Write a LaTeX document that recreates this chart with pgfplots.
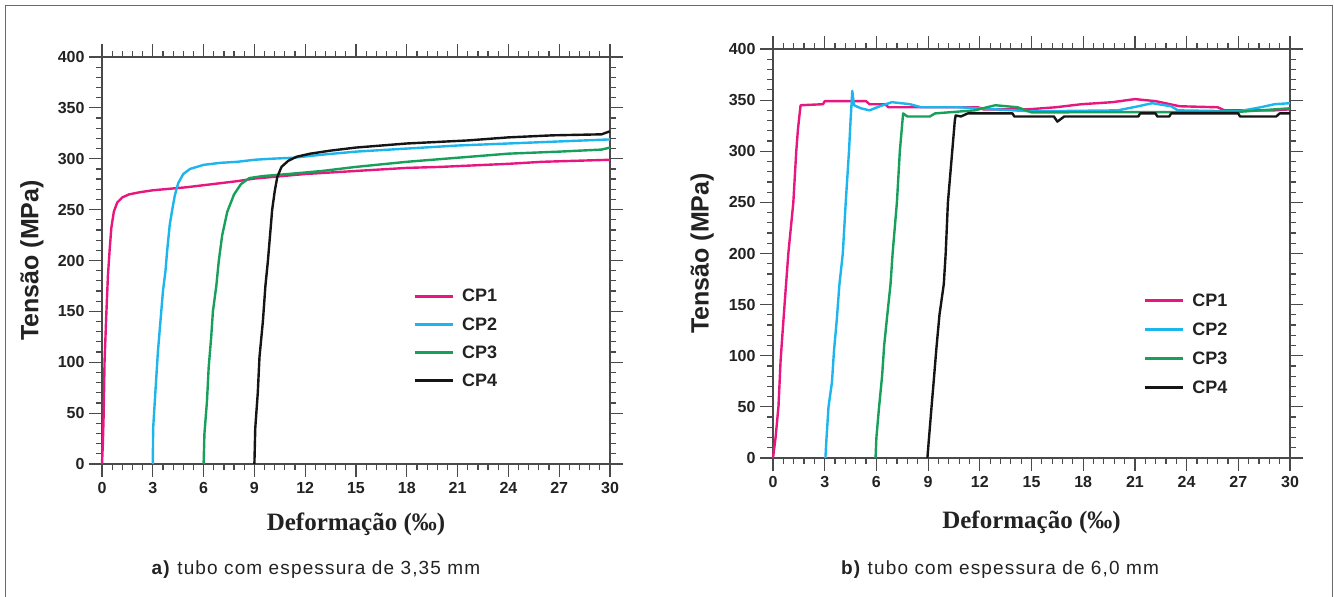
\documentclass[border=0pt]{standalone}
\usepackage{fontspec}
\setmainfont{Liberation Serif}
\setsansfont{Liberation Sans}
\usepackage{pgfplots}
\pgfplotsset{compat=1.18}
\definecolor{cpa}{HTML}{E8177F}
\definecolor{cpb}{HTML}{1CB5EE}
\definecolor{cpc}{HTML}{17A05A}
\definecolor{cpd}{HTML}{151515}
\definecolor{axgray}{HTML}{4A4A4A}
\definecolor{framegray}{HTML}{6A6A6A}
\definecolor{labgray}{HTML}{222222}
\pgfplotsset{
  myax/.style={
    scale only axis,
    xmin=0, xmax=30, ymin=0, ymax=400,
    xtick={0,3,...,30}, ytick={0,50,...,400},
    minor x tick num=4, minor y tick num=4,
    xtick pos=both, ytick pos=both,
    xticklabel pos=lower, yticklabel pos=left,
    tick align=outside,
    major tick length=13pt, minor tick length=6pt,
    axis line style={draw=axgray, line width=1.4pt},
    every tick/.style={draw=axgray, line width=1.2pt},
    /pgf/number format/assume math mode=true,
    tick label style={font=\sffamily\bfseries\fontsize{16}{16}\selectfont, text=labgray},
    xticklabel style={yshift=-2pt},
    yticklabel style={xshift=-1pt},
    legend style={draw=none, fill=none, anchor=north west, inner sep=0pt,
      font=\sffamily\bfseries\fontsize{18}{18}\selectfont, text=labgray,
      row sep=12pt, nodes={inner sep=1pt},
      /tikz/every odd column/.style={column sep=7pt}},
    legend cell align=left,
    legend image code/.code={\draw[#1, line width=3pt] (0pt,0pt) -- (38pt,0pt);},
    every axis plot/.append style={line width=2.4pt, line join=round},
    clip=false,
  }
}
\begin{document}
\begin{tikzpicture}
\path[use as bounding box] (0pt,0pt) rectangle (1334pt,597pt);
\draw[framegray, line width=1.5pt] (5.5pt,-3pt) -- (5.5pt,591.5pt) -- (1332.5pt,591.5pt) -- (1332.5pt,-3pt);

% ---------------- (a) ----------------
\begin{axis}[myax, at={(102pt,133pt)}, anchor=south west, width=508pt, height=407pt,
  legend style={at={(rel axis cs:0.612,0.432)}}]
\addplot[cpa] coordinates {(0,0) (0.05,20) (0.1,50) (0.15,100) (0.25,145) (0.35,185) (0.45,210) (0.55,232) (0.7,248) (0.9,257) (1.2,262) (1.6,265) (2.2,267) (3,269) (4,270.5) (5,272) (6,274) (7,276) (8,278) (9,280.5) (10,282) (12,285) (15,288) (18,291) (20,292) (22,293.5) (24,295) (26,297) (28,298) (30,299)};
\addlegendentry{CP1}
\addplot[cpb] coordinates {(3,0) (3.02,35) (3.15,70) (3.3,110) (3.45,140) (3.6,170) (3.75,190) (3.85,210) (4.0,235) (4.15,250) (4.3,264) (4.5,276) (4.8,285) (5.2,290) (6,294) (7,296) (8,297) (9,299) (10,300) (11.3,301) (13,304) (15,307) (18,310) (21,313) (24,315) (27,317) (30,319)};
\addlegendentry{CP2}
\addplot[cpc] coordinates {(6,0) (6.05,30) (6.2,62) (6.3,95) (6.45,125) (6.55,150) (6.75,175) (6.9,200) (7.1,225) (7.4,248) (7.8,265) (8.2,275) (8.7,281) (9.5,283) (11,285) (13,288) (15,292) (18,297) (21,301) (24,305) (27,307) (29.5,309) (30,311)};
\addlegendentry{CP3}
\addplot[cpd] coordinates {(9,0) (9.05,35) (9.2,70) (9.3,105) (9.5,140) (9.65,175) (9.8,200) (9.95,230) (10.05,250) (10.2,268) (10.35,282) (10.6,292) (11,298) (11.5,302) (12.3,305) (13.5,308) (15,311) (18,315) (21.6,318) (24,321) (26.6,323) (29.5,324) (30,327)};
\addlegendentry{CP4}
\node[font=\sffamily\bfseries\fontsize{25}{25}\selectfont, text=labgray, rotate=90] at (rel axis cs:-0.138,0.5) {Tensão (MPa)};
\node[font=\bfseries\fontsize{25}{25}\selectfont, text=labgray] at (rel axis cs:0.5,-0.148) {Deformação (‰)};
\end{axis}
\node[font=\sffamily\fontsize{19}{19}\selectfont\addfontfeature{LetterSpace=6}, text=labgray] at (316pt,27pt) {\textbf{a)} tubo com espessura de 3,35 mm};

% ---------------- (b) ----------------
\begin{axis}[myax, at={(773pt,139pt)}, anchor=south west, width=517pt, height=409pt,
  legend style={at={(rel axis cs:0.716,0.405)}, row sep=13pt}]
\addplot[cpa] coordinates {(0,0) (0.15,20) (0.32,51) (0.44,95) (0.56,124) (0.71,159) (0.89,200) (1.18,250) (1.35,300) (1.45,322) (1.6,345) (2.9,346) (3.0,349) (5.4,349) (5.6,346) (6.5,346) (6.7,343) (11.9,343) (12.2,341) (14.8,341) (16.4,343) (17.9,346) (19.7,348) (21,351) (22.2,349) (23.6,344) (25.8,343) (26.2,340) (29.1,340) (30,341)};
\addlegendentry{CP1}
\addplot[cpb] coordinates {(3.04,0) (3.1,18) (3.22,50) (3.42,74) (3.54,105) (3.7,135) (3.85,169) (4.05,200) (4.22,250) (4.41,300) (4.5,330) (4.6,359) (4.7,345) (5.1,342) (5.6,340) (6.2,344) (6.9,348) (7.95,346) (8.6,343) (10.8,343) (15,339) (20,340) (21.2,344) (22,347) (23.1,344) (23.5,340) (27,339) (28.3,343) (29.1,346) (30,347)};
\addlegendentry{CP2}
\addplot[cpc] coordinates {(5.95,0) (6.0,20) (6.15,49) (6.33,80) (6.45,110) (6.62,138) (6.82,170) (6.94,200) (7.19,250) (7.36,300) (7.55,337) (7.8,334) (9.1,334) (9.4,337) (11.7,340) (12.9,345) (14.2,343) (15,338) (27,338.5) (30,342)};
\addlegendentry{CP3}
\addplot[cpd] coordinates {(8.96,0) (9.03,15) (9.2,50) (9.33,76) (9.48,107) (9.66,140) (9.91,170) (10.02,200) (10.15,250) (10.4,300) (10.55,330) (10.6,335) (10.9,334) (11.3,337) (13.9,337) (14,334) (16.3,334) (16.5,329) (16.9,334) (21.2,334) (21.3,337) (22.2,337) (22.3,334) (23,334) (23.1,337) (27,337) (27.1,334) (29.2,334) (29.4,337) (30,337)};
\addlegendentry{CP4}
\node[font=\sffamily\bfseries\fontsize{25}{25}\selectfont, text=labgray, rotate=90] at (rel axis cs:-0.137,0.5) {Tensão (MPa)};
\node[font=\bfseries\fontsize{25}{25}\selectfont, text=labgray] at (rel axis cs:0.5,-0.158) {Deformação (‰)};
\end{axis}
\node[font=\sffamily\fontsize{19}{19}\selectfont\addfontfeature{LetterSpace=6}, text=labgray] at (1000pt,27pt) {\textbf{b)} tubo com espessura de 6,0 mm};
\end{tikzpicture}
\end{document}
